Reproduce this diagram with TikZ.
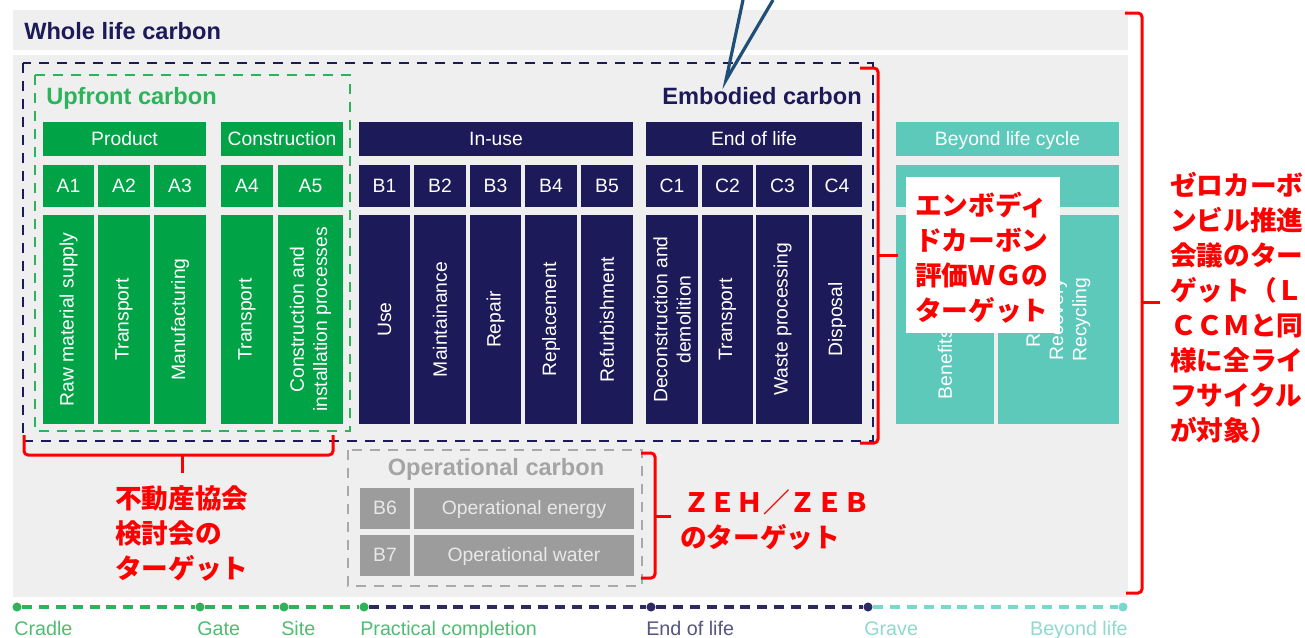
\documentclass[tikz,border=0pt]{standalone}
\usepackage{fontspec}
\setmainfont{Liberation Sans}
\newfontfamily\jpfont{Noto Sans CJK JP}
\definecolor{panel}{HTML}{EFEFEF}
\definecolor{upgreen}{HTML}{00A346}
\definecolor{navy}{HTML}{1C1A58}
\definecolor{teal}{HTML}{5CC9BB}
\definecolor{opgray}{HTML}{9C9C9C}
\definecolor{optxt}{HTML}{E8E8E8}
\definecolor{optitle}{HTML}{A4A4A4}
\definecolor{gdash}{HTML}{A9A9A9}
\definecolor{vblue}{HTML}{1F4E79}
\definecolor{dgreen}{HTML}{2DB35A}
\definecolor{tlgreen}{HTML}{2DB35A}
\definecolor{tlnavy}{HTML}{2B2A62}
\definecolor{tlteal}{HTML}{7DD6CA}
\definecolor{lbgreen}{HTML}{4DBD72}
\definecolor{lbnavy}{HTML}{55557E}
\definecolor{lbteal}{HTML}{8FD9CF}
\newcommand{\cellbox}[7]{\node[#1, minimum width={(#5-#3)*0.75pt}, minimum height={(#6-#4)*0.75pt}] (#2) at ({(#3+#5)/2},{(#4+#6)/2}) {#7};}
\newcommand{\desccell}[5]{\node[#1, minimum width={(#4-#3)*0.75pt}, minimum height={209*0.75pt}] (#2) at ({(#3+#4)/2},319.5) {};
  \node[rot] (#2-t) at (#2.center) {#5};}
\tikzset{
  box/.style={draw=none, inner sep=0pt, text=white, font=\fontsize{14.5}{17.4}\selectfont, text height=0.9em, text depth=0em},
  gbox/.style={box, fill=upgreen},
  nbox/.style={box, fill=navy},
  tbox/.style={box, fill=teal},
  obox/.style={box, fill=opgray, text=optxt},
  rot/.style={rotate=90, align=center, text=white, inner sep=0pt, font=\fontsize{14.5}{17.4}\selectfont},
  title/.style={font=\bfseries\fontsize{17.7}{21}\selectfont, inner sep=0pt, anchor=base west},
  jp/.style={font=\jpfont\bfseries\fontsize{20}{26.25}\selectfont, text=red, inner sep=0pt, anchor=base west},
  bracket/.style={draw=red, line width=2.25pt, rounded corners=3pt},
  dashbox/.style={line width=2.2pt, dash pattern=on 7.5pt off 6pt},
  tl/.style={line width=2.6pt, dash pattern=on 7.5pt off 5.2pt},
  dot/.style={circle, inner sep=0pt, minimum size=6.8pt},
  tlabel/.style={font=\fontsize{14.8}{17}\selectfont, inner sep=0pt, anchor=base west}
}
\begin{document}
\begin{tikzpicture}[x=0.75pt,y=-0.75pt]
\useasboundingbox (0,0) rectangle (1305,637);
% backgrounds
\fill[panel] (13,10) rectangle (1128,50);
\fill[panel] (13,55) rectangle (1128,597);
\node[title, text=navy] (wlc) at (24,39) {Whole life carbon};
% dashed frames
\draw[dashbox, draw=navy] (23,63) rectangle (873,441);
\draw[dashbox, draw=dgreen] (35,75) rectangle (350,431);
\draw[dashbox, draw=gdash] (348,450) rectangle (642,586);
\node[title, text=dgreen] (upc) at (46,104) {Upfront carbon};
\node[title, text=navy, anchor=base east] (emc) at (862,104) {Embodied carbon};
\node[title, text=optitle, anchor=base] (opc) at (496,475) {Operational carbon};
% headers
\cellbox{gbox}{product}{43}{122}{206}{156}{Product}
\cellbox{gbox}{constr}{221}{122}{343}{156}{Construction}
\cellbox{nbox}{inuse}{359}{122}{633}{156}{In-use}
\cellbox{nbox}{eol}{646}{122}{862}{156}{End of life}
\cellbox{tbox}{beyond}{896}{122}{1119}{156}{Beyond life cycle}
% codes
\cellbox{gbox}{a1}{43}{165}{94}{207}{A1}
\cellbox{gbox}{a2}{98}{165}{150}{207}{A2}
\cellbox{gbox}{a3}{154}{165}{206}{207}{A3}
\cellbox{gbox}{a4}{221}{165}{273}{207}{A4}
\cellbox{gbox}{a5}{278}{165}{343}{207}{A5}
\cellbox{nbox}{b1}{359}{165}{410}{207}{B1}
\cellbox{nbox}{b2}{414}{165}{466}{207}{B2}
\cellbox{nbox}{b3}{470}{165}{521}{207}{B3}
\cellbox{nbox}{b4}{525}{165}{577}{207}{B4}
\cellbox{nbox}{b5}{581}{165}{633}{207}{B5}
\cellbox{nbox}{c1}{646}{165}{698}{207}{C1}
\cellbox{nbox}{c2}{702}{165}{753}{207}{C2}
\cellbox{nbox}{c3}{756}{165}{809}{207}{C3}
\cellbox{nbox}{c4}{812}{165}{862}{207}{C4}
\cellbox{tbox}{d}{896}{165}{1119}{207}{}
% descriptions
\desccell{gbox}{a1d}{43}{94}{Raw material supply}
\desccell{gbox}{a2d}{98}{150}{Transport}
\desccell{gbox}{a3d}{154}{206}{Manufacturing}
\desccell{gbox}{a4d}{221}{273}{Transport}
\desccell{gbox}{a5d}{278}{343}{Construction and\\installation processes}
\desccell{nbox}{b1d}{359}{410}{Use}
\desccell{nbox}{b2d}{414}{466}{Maintainance}
\desccell{nbox}{b3d}{470}{521}{Repair}
\desccell{nbox}{b4d}{525}{577}{Replacement}
\desccell{nbox}{b5d}{581}{633}{Refurbishment}
\desccell{nbox}{c1d}{646}{698}{Deconstruction and\\demolition}
\desccell{nbox}{c2d}{702}{753}{Transport}
\desccell{nbox}{c3d}{756}{809}{Waste processing}
\desccell{nbox}{c4d}{812}{862}{Disposal}
\desccell{tbox}{d1d}{896}{994}{Benefits and loads}
\desccell{tbox}{d2d}{998}{1119}{Reuse\\Recovery\\Recycling}
% operational
\cellbox{obox}{b6}{360}{488}{410}{529}{B6}
\cellbox{obox}{oe}{414}{488}{634}{529}{Operational energy}
\cellbox{obox}{b7}{360}{535}{410}{576}{B7}
\cellbox{obox}{ow}{414}{535}{634}{576}{Operational water}
% white annotation box
\fill[white] (906,177) rectangle (1060,333);
\node[jp] (e1) at (915,215) {エンボディ};
\node[jp] (e2) at (915,250) {ドカーボン};
\node[jp] (e3) at (915,285) {評価ＷＧの};
\node[jp] (e4) at (915,320) {ターゲット};
% red brackets
\draw[bracket] (860,68) -- (878,68) -- (878,443) -- (860,443);
\draw[bracket] (878,255) -- (898,255);
\draw[bracket] (1125,13) -- (1142,13) -- (1142,593) -- (1126,593);
\draw[bracket] (1142,302) -- (1160,302);
\draw[bracket] (24,435) -- (24,455) -- (333,455) -- (333,435);
\draw[bracket] (182,455) -- (182,473);
\draw[bracket] (641,453) -- (655,453) -- (655,578) -- (641,578);
\draw[bracket] (655,516) -- (671,516);
% red texts
\node[jp] (u1) at (115,508) {不動産協会};
\node[jp] (u2) at (115,543) {検討会の};
\node[jp] (u3) at (115,578) {ターゲット};
\node[jp] (z1) at (683,512) {ＺＥＨ／ＺＥＢ};
\node[jp] (z2) at (680,547) {のターゲット};
\node[jp] (r1) at (1170,195) {ゼロカーボ};
\node[jp] (r2) at (1170,230) {ンビル推進};
\node[jp] (r3) at (1170,265) {会議のター};
\node[jp] (r4) at (1170,300) {ゲット（Ｌ};
\node[jp] (r5) at (1170,335) {ＣＣＭと同};
\node[jp] (r6) at (1170,370) {様に全ライ};
\node[jp] (r7) at (1170,405) {フサイクル};
\node[jp] (r8) at (1170,440) {が対象）};
% blue pointer
\coordinate (vapex) at (726,80);
\coordinate (vl) at (743,0);
\coordinate (vr) at (773,0);
\draw[vblue, line width=2.4pt] (vl) -- (vapex) -- (vr);
% timeline
\node[dot, fill=tlgreen] (cradle) at (17,607) {};
\node[dot, fill=tlgreen] (gate) at (200,607) {};
\node[dot, fill=tlgreen] (site) at (284,607) {};
\node[dot, fill=tlgreen] (pc) at (364,607) {};
\node[dot, fill=tlnavy] (endl) at (651,607) {};
\node[dot, fill=tlnavy] (grave) at (868,607) {};
\node[dot, fill=tlteal] (bl) at (1123,607) {};
\draw[tl, tlgreen] (cradle) -- (gate);
\draw[tl, tlgreen] (gate) -- (site);
\draw[tl, tlgreen] (site) -- (pc);
\draw[tl, tlnavy] (pc) -- (endl);
\draw[tl, tlnavy] (endl) -- (grave);
\draw[tl, tlteal] (grave) -- (bl);
\node[tlabel, text=lbgreen] (lcradle) at (14,635) {Cradle};
\node[tlabel, text=lbgreen] (lgate) at (197,635) {Gate};
\node[tlabel, text=lbgreen] (lsite) at (281,635) {Site};
\node[tlabel, text=lbgreen] (lpc) at (360,635) {Practical completion};
\node[tlabel, text=lbnavy] (lend) at (646,635) {End of life};
\node[tlabel, text=lbteal] (lgrave) at (864,635) {Grave};
\node[tlabel, text=lbteal, anchor=base east] (lbl) at (1128,635) {Beyond life};
\end{tikzpicture}
\end{document}
